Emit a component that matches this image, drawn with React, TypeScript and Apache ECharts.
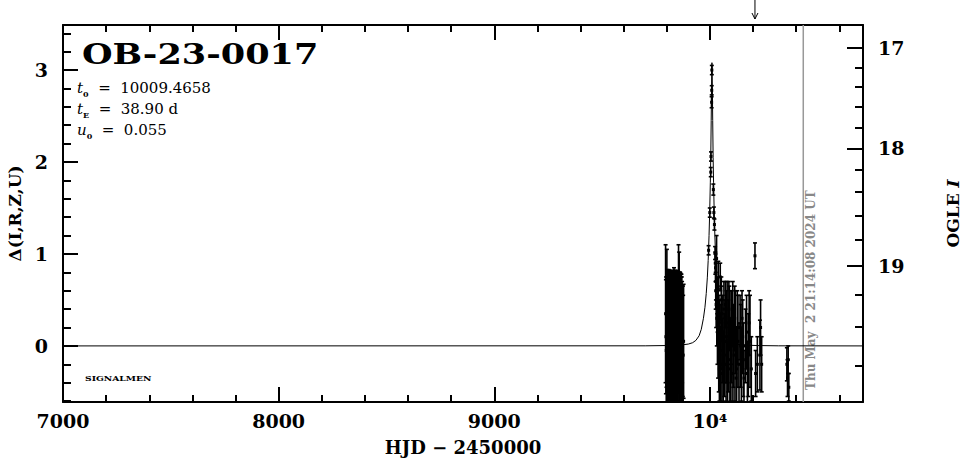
import React, { useEffect, useRef } from 'react';
import * as echarts from 'echarts';

const X_MIN = 7000;
const X_MAX = 10710;
const Y_MIN = -0.61;
const Y_MAX = 3.49;

const xMajorTicks = [7000, 8000, 9000, 10000];
const xMinorTicks = [7000, 7200, 7400, 7600, 7800, 8000, 8200, 8400, 8600, 8800, 9000, 9200, 9400, 9600, 9800, 10000, 10200, 10400, 10600];
const yMajorTicks = [0, 1, 2, 3];
const yMinorTicks = [-0.6, -0.4, -0.2, 0, 0.2, 0.4, 0.6, 0.8, 1, 1.2, 1.4, 1.6, 1.8, 2, 2.2, 2.4, 2.6, 2.8, 3, 3.2, 3.4];
const ogleMajor = [17, 18, 19];
const ogleMinor = [17, 17.2, 17.4, 17.6, 17.8, 18, 18.2, 18.4, 18.6, 18.8, 19, 19.2, 19.4, 19.6];

// OGLE I magnitude -> Δ scale
const OGLE_REF = 17;
const OGLE_BLEND = 0.0518;
const OGLE_SCALE = 0.0479;
const ogleToDelta = (m: number) =>
  2.5 * Math.log10((Math.pow(10, -0.4 * (m - OGLE_REF)) - OGLE_BLEND) / OGLE_SCALE);

// model curve (HJD-2450000, Δ)
const modelHJD = [7000, 9700, 9800, 9850, 9880, 9900, 9920, 9935, 9950, 9960, 9970, 9977, 9983, 9988, 9992, 9996, 9999, 10002, 10004, 10006, 10007.5, 10008.7, 10009.5, 10010.3, 10011.5, 10013, 10015, 10017, 10020, 10023, 10027, 10031, 10036, 10042, 10049, 10059, 10069, 10084, 10099, 10119, 10139, 10169, 10219, 10319, 10710];
const modelDelta = [0, 0.001, 0.004, 0.008, 0.014, 0.02, 0.035, 0.06, 0.11, 0.18, 0.3, 0.42, 0.57, 0.74, 0.93, 1.2, 1.45, 1.78, 2.05, 2.45, 2.78, 3.02, 3.08, 3.02, 2.78, 2.45, 2.05, 1.78, 1.45, 1.2, 0.93, 0.74, 0.57, 0.42, 0.3, 0.18, 0.11, 0.06, 0.035, 0.02, 0.014, 0.008, 0.004, 0.001, 0];

// observations: [HJD-2450000, Δ, error]
const earlySeason: [number, number, number][] = [
  [9794.5, 0.35, 0.75], [9796, 0.1, 0.62], [9797.5, -0.05, 0.8], [9799, 0.15, 0.6], [9800.5, 0.3, 0.75],
  [9802, 0.05, 0.78], [9803.5, 0.2, 0.62], [9805, -0.1, 0.88], [9806.5, 0.2, 0.62], [9808, 0.0, 0.8],
  [9809.5, 0.25, 0.58], [9811, -0.15, 0.95], [9812.5, 0.1, 0.72], [9814, 0.3, 0.52], [9815.5, -0.05, 0.85],
  [9817, 0.15, 0.66], [9818.5, 0.05, 0.75], [9820, 0.2, 0.6], [9821.5, -0.2, 1.0], [9823, 0.1, 0.7],
  [9824.5, 0.25, 0.57], [9826, 0.0, 0.82], [9827.5, 0.15, 0.65], [9829, -0.1, 0.9], [9830.5, 0.2, 0.62],
  [9832, 0.05, 0.76], [9833.5, 0.3, 0.55], [9835, -0.05, 0.84], [9836.5, 0.1, 0.72], [9838, 0.2, 0.62],
  [9839.5, 0.0, 0.8], [9841, 0.15, 0.66], [9842.5, -0.15, 0.95], [9844, 0.25, 0.56], [9845.5, 0.05, 0.77],
  [9847, 0.1, 0.7], [9848.5, -0.1, 0.9], [9850, 0.2, 0.62], [9851.5, 0.05, 0.76], [9853, 0.15, 0.66],
  [9854.5, 0.35, 0.75], [9856, 0.0, 0.8], [9857.5, 0.3, 0.72], [9859, 0.1, 0.7], [9860.5, -0.05, 0.85],
  [9862, 0.15, 0.65], [9863.5, 0.05, 0.74], [9865, 0.2, 0.58], [9866.5, -0.1, 0.85], [9868, 0.1, 0.68],
  [9869.5, 0.0, 0.75], [9871, 0.15, 0.55], [9872.5, -0.05, 0.7], [9874, 0.05, 0.6], [9876, -0.1, 0.65],
  [9878, 0.05, 0.62],
];

const peakPoints: [number, number, number][] = [
  [9994, 1.04, 0.05], [9999.5, 1.45, 0.05], [10004, 1.89, 0.05], [10005, 2.06, 0.05],
  [10008, 2.65, 0.06], [10008.5, 2.78, 0.05], [10009, 3.0, 0.05], [10016, 1.7, 0.06],
  [10018.5, 1.45, 0.06], [10021, 1.32, 0.06], [10024, 1.01, 0.07],
];

const declinePoints: [number, number, number][] = [
  [10025, 0.9, 0.12], [10026, 0.85, 0.15], [10027, 0.6, 0.2], [10028, 0.7, 0.2], [10029, 0.45, 0.25],
  [10031, 0.95, 0.25], [10032, 0.3, 0.3], [10034, 0.55, 0.2], [10035, 0.15, 0.35], [10036, 0.4, 0.25],
  [10038, 0.05, 0.4], [10039, 0.62, 0.3], [10041, -0.1, 0.4], [10042, 0.3, 0.25], [10044, -0.25, 0.35],
  [10045, 0.2, 0.3], [10048, 0.75, 0.15], [10050, -0.2, 0.4], [10051, 0.1, 0.35], [10053, 0.5, 0.25],
  [10054, 0.35, 0.3], [10056, -0.3, 0.35], [10057, -0.05, 0.35], [10060, 0.15, 0.4], [10062, -0.25, 0.4],
  [10065, 0.4, 0.3], [10067, -0.1, 0.45], [10070, 0.05, 0.45], [10072, 0.45, 0.25], [10075, -0.2, 0.4],
  [10077, 0.1, 0.5], [10080, 0.25, 0.45], [10082, -0.3, 0.35], [10085, 0.0, 0.5], [10088, 0.4, 0.3],
  [10090, 0.3, 0.35], [10093, -0.25, 0.4], [10095, -0.15, 0.45], [10098, 0.2, 0.4], [10100, 0.1, 0.5],
  [10103, -0.3, 0.35], [10106, 0.35, 0.35], [10109, 0.0, 0.45], [10112, -0.1, 0.5], [10115, 0.3, 0.35],
  [10118, 0.15, 0.45], [10121, -0.35, 0.3], [10124, -0.25, 0.45], [10127, 0.2, 0.4], [10130, 0.05, 0.5],
  [10135, -0.2, 0.45], [10140, 0.2, 0.35], [10143, 0.0, 0.45], [10146, -0.2, 0.4], [10149, 0.3, 0.3],
  [10152, 0.1, 0.4], [10155, -0.15, 0.4], [10158, -0.35, 0.3], [10165, 0.0, 0.4], [10170, 0.15, 0.4],
  [10174, -0.3, 0.35], [10178, -0.1, 0.45], [10182, 0.25, 0.35], [10186, 0.05, 0.5], [10192, -0.25, 0.35],
  [10209, 0.98, 0.14], [10212, -0.3, 0.25], [10220, -0.2, 0.3], [10232, -0.1, 0.38], [10235, 0.2, 0.3],
  [10240, -0.2, 0.3],
  [10357, -0.2, 0.18], [10360, -0.35, 0.2], [10363, -0.15, 0.15], [10366, -0.45, 0.15],
];

const oglePoint: [number, number][] = [[10593, 3.24]];
const nowHJD = 10433;
const nowLabel = 'Thu May  2 21:14:08 2024 UT';
const arrowHJD = 10209;

const SERIF = '"DejaVu Serif", serif';

export default function App() {
  const ref = useRef<HTMLDivElement>(null);
  useEffect(() => {
    if (!ref.current) return;
    const chart = echarts.init(ref.current, undefined, { renderer: 'svg' });

    const tickLine = { color: '#000', width: 2 };
    const labelFont = { color: '#000', fontSize: 19, fontWeight: 'bold' as const, fontFamily: SERIF };
    const baseX = { type: 'value' as const, min: X_MIN, max: X_MAX, splitLine: { show: false } };
    const baseY = { type: 'value' as const, min: Y_MIN, max: Y_MAX, splitLine: { show: false } };
    const ogleMajorD = ogleMajor.map(ogleToDelta);
    const ogleMinorD = ogleMinor.map(ogleToDelta);

    const observations = [...earlySeason, ...peakPoints, ...declinePoints];

    const option: any = {
      animation: false,
      grid: { left: 63, right: 103, top: 25, bottom: 57, containLabel: false, outerBoundsMode: 'none' },
      xAxis: [
        {
          ...baseX, position: 'bottom',
          axisLine: { show: true, onZero: false, lineStyle: tickLine },
          axisTick: { show: true, inside: true, length: 15, customValues: xMajorTicks, lineStyle: tickLine },
          axisLabel: { ...labelFont, margin: 9, customValues: xMajorTicks, formatter: (v: number) => (v === 10000 ? '10⁴' : String(v)) },
          name: 'HJD − 2450000', nameLocation: 'middle', nameGap: 36,
          nameTextStyle: { ...labelFont, fontSize: 18 },
        },
        {
          ...baseX, position: 'bottom',
          axisLine: { show: false, onZero: false },
          axisTick: { show: true, inside: true, length: 7, customValues: xMinorTicks, lineStyle: tickLine },
          axisLabel: { show: false },
        },
        {
          ...baseX, position: 'top',
          axisLine: { show: true, onZero: false, lineStyle: tickLine },
          axisTick: { show: true, inside: true, length: 15, customValues: xMajorTicks, lineStyle: tickLine },
          axisLabel: { show: false },
        },
        {
          ...baseX, position: 'top',
          axisLine: { show: false, onZero: false },
          axisTick: { show: true, inside: true, length: 7, customValues: xMinorTicks, lineStyle: tickLine },
          axisLabel: { show: false },
        },
      ],
      yAxis: [
        {
          ...baseY, position: 'left',
          axisLine: { show: true, onZero: false, lineStyle: tickLine },
          axisTick: { show: true, inside: true, length: 15, customValues: yMajorTicks, lineStyle: tickLine },
          axisLabel: { ...labelFont, margin: 15, customValues: yMajorTicks, formatter: (v: number) => String(Math.round(v)) },
          name: 'Δ(I,R,Z,U)', nameLocation: 'middle', nameGap: 38, nameRotate: 90,
          nameTextStyle: { ...labelFont, fontSize: 17 },
        },
        {
          ...baseY, position: 'left',
          axisLine: { show: false, onZero: false },
          axisTick: { show: true, inside: true, length: 8, customValues: yMinorTicks, lineStyle: tickLine },
          axisLabel: { show: false },
        },
        {
          ...baseY, position: 'right',
          axisLine: { show: true, onZero: false, lineStyle: tickLine },
          axisTick: { show: true, inside: true, length: 16, customValues: ogleMajorD, lineStyle: tickLine },
          axisLabel: {
            ...labelFont, margin: 15, customValues: ogleMajorD,
            formatter: (v: number) => {
              let best = 0;
              ogleMajorD.forEach((d, i) => { if (Math.abs(d - v) < Math.abs(ogleMajorD[best] - v)) best = i; });
              return String(ogleMajor[best]);
            },
          },
          name: '{n|OGLE }{i|I}', nameLocation: 'middle', nameGap: 81, nameRotate: 90,
          nameTextStyle: {
            rich: {
              n: { ...labelFont, fontSize: 17 },
              i: { ...labelFont, fontSize: 17, fontStyle: 'italic' },
            },
          },
        },
        {
          ...baseY, position: 'right',
          axisLine: { show: false, onZero: false },
          axisTick: { show: true, inside: true, length: 8, customValues: ogleMinorD, lineStyle: tickLine },
          axisLabel: { show: false },
        },
      ],
      graphic: [
        {
          type: 'text', x: 82, y: 55, scaleX: 1.3,
          style: { text: 'OB-23-0017', font: `bold 27px ${SERIF}`, fill: '#000', align: 'left', verticalAlign: 'middle', textAlign: 'left', textVerticalAlign: 'middle' },
        },
        ...[
          ['t', '0', '10009.4658'],
          ['t', 'E', '38.90 d'],
          ['u', '0', '0.055'],
        ].map((p, i) => ({
          type: 'text', x: 77, y: 88 + i * 21,
          style: {
            text: `{v|${p[0]}}{s|${p[1]}}{n|  =  ${p[2]}}`,
            fill: '#000', align: 'left', verticalAlign: 'middle', textAlign: 'left', textVerticalAlign: 'middle',
            rich: {
              v: { font: `italic 15px ${SERIF}`, fill: '#000', lineHeight: 20 },
              s: { font: `bold 8px ${SERIF}`, fill: '#000', lineHeight: 20, verticalAlign: 'bottom', padding: [0, 0, 0, 0] },
              n: { font: `15px ${SERIF}`, fill: '#000', lineHeight: 20 },
            },
          },
        })),
        {
          type: 'text', x: 85, y: 378, scaleX: 1.15,
          style: { text: 'SIGNALMEN', font: `bold 8px ${SERIF}`, fill: '#000', align: 'left', verticalAlign: 'middle', textAlign: 'left', textVerticalAlign: 'middle' },
        },
      ],
      series: [
        {
          type: 'line', xAxisIndex: 0, yAxisIndex: 0,
          data: modelHJD.map((x, i) => [x, modelDelta[i]]),
          showSymbol: false, symbol: 'none',
          lineStyle: { color: '#000', width: 1 },
          z: 3,
        },
        {
          type: 'custom', xAxisIndex: 0, yAxisIndex: 0, clip: true,
          data: observations,
          encode: { x: 0, y: 1 },
          renderItem: (_p: any, api: any) => {
            const x = api.value(0), y = api.value(1), e = api.value(2);
            const top = api.coord([x, y + e]);
            const bot = api.coord([x, y - e]);
            const c = api.coord([x, y]);
            const st = { stroke: '#000', lineWidth: 1.6 };
            return {
              type: 'group',
              children: [
                { type: 'line', shape: { x1: top[0], y1: top[1], x2: bot[0], y2: bot[1] }, style: st },
                { type: 'line', shape: { x1: top[0] - 2, y1: top[1], x2: top[0] + 2, y2: top[1] }, style: st },
                { type: 'line', shape: { x1: bot[0] - 2, y1: bot[1], x2: bot[0] + 2, y2: bot[1] }, style: st },
                { type: 'rect', shape: { x: c[0] - 1.5, y: c[1] - 1.5, width: 3, height: 3 }, style: { fill: '#000' } },
              ],
            };
          },
          z: 4,
        },
        {
          type: 'scatter', xAxisIndex: 0, yAxisIndex: 0,
          data: oglePoint, symbol: 'emptyCircle', symbolSize: 5,
          itemStyle: { color: '#fff', borderColor: '#000', borderWidth: 2 },
          z: 5,
        },
        {
          type: 'custom', xAxisIndex: 0, yAxisIndex: 0, clip: false,
          data: [[nowHJD, 0]],
          renderItem: (_p: any, api: any) => {
            const x = api.value(0);
            const t = api.coord([x, Y_MAX]);
            const b = api.coord([x, Y_MIN]);
            return {
              type: 'group',
              children: [
                { type: 'line', shape: { x1: t[0], y1: t[1], x2: b[0], y2: b[1] }, style: { stroke: '#999', lineWidth: 1.5 } },
                {
                  type: 'text', x: b[0] + 8, y: b[1] - 12, rotation: Math.PI / 2,
                  style: { text: nowLabel, font: `bold 12px ${SERIF}`, fill: '#888', align: 'left', verticalAlign: 'middle', textAlign: 'left', textVerticalAlign: 'middle' },
                },
              ],
            };
          },
          z: 2,
        },
        {
          type: 'custom', xAxisIndex: 0, yAxisIndex: 0, clip: false,
          data: [[arrowHJD, Y_MAX]],
          renderItem: (_p: any, api: any) => {
            const p = api.coord([api.value(0), api.value(1)]);
            const st = { stroke: '#000', lineWidth: 1, fill: 'none' };
            return {
              type: 'group',
              children: [
                { type: 'line', shape: { x1: p[0], y1: p[1] - 25, x2: p[0], y2: p[1] - 6 }, style: st },
                { type: 'polyline', shape: { points: [[p[0] - 3, p[1] - 12], [p[0], p[1] - 6], [p[0] + 3, p[1] - 12]] }, style: st },
              ],
            };
          },
          z: 2,
        },
      ],
    };
    chart.setOption(option);
    return () => chart.dispose();
  }, []);
  return <div ref={ref} style={{ position: 'fixed', left: 0, top: 0, width: 966, height: 459, background: '#fff' }} />;
}
